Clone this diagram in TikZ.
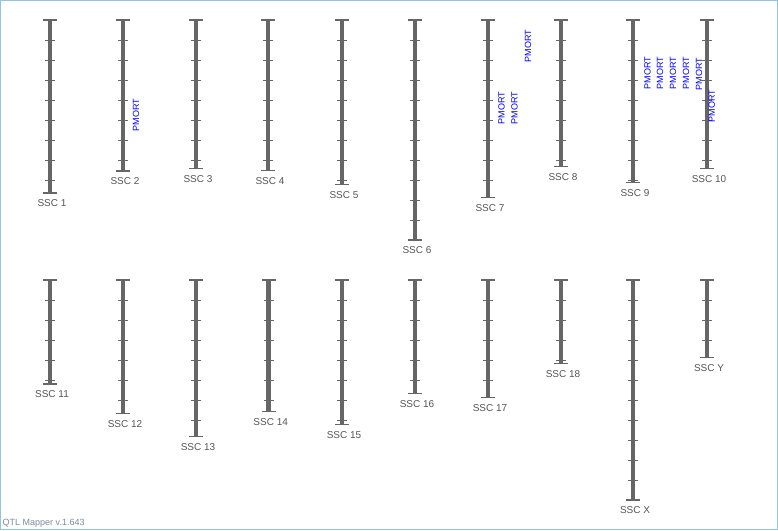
\documentclass[tikz,border=0pt]{standalone}
\usepackage{fontspec}
\setmainfont{Liberation Sans}
\definecolor{bargray}{HTML}{666666}
\definecolor{labgray}{HTML}{555555}
\definecolor{frameblue}{HTML}{8EC3EA}
\definecolor{notegray}{HTML}{7A8A9A}
\tikzset{
  bar/.style={line width=4.5pt,bargray},
  endcap/.style={line width=1.3pt,bargray},
  tickmark/.style={line width=0.9pt,bargray},
  chrlabel/.style={labgray,font=\fontsize{10}{12}\selectfont,inner sep=0pt},
  qtl/.style={blue,font=\fontsize{9}{10}\selectfont,rotate=90,inner sep=0pt}
}

\begin{document}
\begin{tikzpicture}[x=1pt,y=-1pt]
\useasboundingbox (0,0) rectangle (778,530);
\draw[frameblue,line width=1pt] (0.5,0.5) rectangle (777.5,529.5);
% chromosomes: x / top / bottom / name / label
\foreach \cx/\ya/\yb/\id/\lab in {
   50/20/193/c1/SSC 1, 123/20/171/c2/SSC 2, 196/20/168.5/c3/SSC 3,
   268/20/170.5/c4/SSC 4, 342/20/184.5/c5/SSC 5, 415/20/240/c6/SSC 6,
   488/20/197.3/c7/SSC 7, 561/20/166.5/c8/SSC 8, 633/20/182.3/c9/SSC 9,
   707/20/168.3/c10/SSC 10,
   50/280/384/c11/SSC 11, 123/280/413.3/c12/SSC 12, 196/280/436.7/c13/SSC 13,
   268.7/280/411.3/c14/SSC 14, 342/280/424.3/c15/SSC 15, 415/280/393.3/c16/SSC 16,
   488/280/397.3/c17/SSC 17, 561/280/363.3/c18/SSC 18, 633/280/500/cX/SSC X,
   707/280/357.7/cY/SSC Y}{
  \draw[bar] (\cx,\ya) -- (\cx,\yb);
  \draw[endcap] (\cx-7,\ya) -- (\cx+7,\ya);
  \draw[endcap] (\cx-7,\yb) -- (\cx+7,\yb);
  \pgfmathtruncatemacro{\nt}{(\yb-\ya-1)/20}
  \foreach \k in {1,...,\nt}
    \draw[tickmark] (\cx-5,\ya+20*\k) -- (\cx+5,\ya+20*\k);
  \node[chrlabel] (\id) at (\cx+2,\yb+10.5) {\lab};
}
% QTL labels
\node[qtl] (q2) at (136,115) {PMORT};
\node[qtl] (q7a) at (501.5,108) {PMORT};
\node[qtl] (q7b) at (514.5,108) {PMORT};
\node[qtl] (q7c) at (528,46) {PMORT};
\node[qtl] (q9a) at (647.5,73) {PMORT};
\node[qtl] (q9b) at (660,73) {PMORT};
\node[qtl] (q9c) at (673,73) {PMORT};
\node[qtl] (q9d) at (686,73) {PMORT};
\node[qtl] (q9e) at (699,74) {PMORT};
\node[qtl] (q10) at (711.7,106) {PMORT};
\node[notegray,font=\fontsize{9}{10}\selectfont,anchor=west,inner sep=0pt] (ver) at (2.5,523) {QTL Mapper v.1.643};
\end{tikzpicture}
\end{document}
